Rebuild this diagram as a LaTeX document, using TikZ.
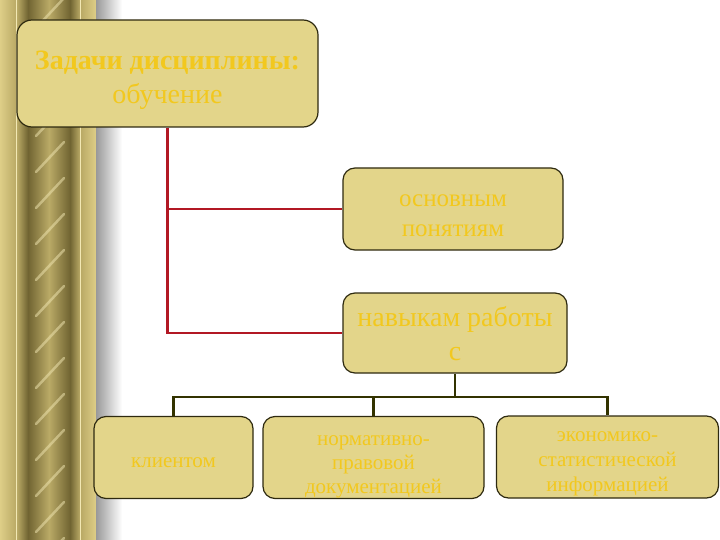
\documentclass[tikz,border=0pt]{standalone}
\usepackage{fontspec}
\setmainfont{Liberation Serif}
\definecolor{boxfill}{RGB}{227,213,138}
\definecolor{boxline}{RGB}{46,42,16}
\definecolor{txt}{RGB}{242,200,30}
\definecolor{redln}{RGB}{178,24,36}
\definecolor{treeln}{RGB}{51,51,0}
\definecolor{pilLight}{RGB}{222,206,135}
\definecolor{pilMid}{RGB}{186,170,102}
\definecolor{pilDark}{RGB}{112,100,50}
\definecolor{pilGlow}{RGB}{242,232,180}

\begin{document}
\begin{tikzpicture}[x=1pt,y=-1pt,
  box/.style={draw=boxline,line width=1.2pt,fill=boxfill,rounded corners=12pt},
  lbl/.style={text=txt,align=center,inner sep=0pt},
  redwire/.style={draw=redln,line width=2.2pt},
  treewire/.style={draw=treeln,line width=2.2pt},
  streak/.style={draw=pilGlow,line width=2.5pt,opacity=.5,line cap=round}]
\useasboundingbox (0,0) rectangle (720,540);

% pillar
\shade[left color=pilLight,right color=pilMid] (0,0) rectangle (16,540);
\shade[left color=pilMid,right color=pilDark] (17,0) rectangle (28,540);
\shade[left color=pilDark,right color=pilDark,middle color=pilMid] (28,0) rectangle (70,540);
\shade[left color=pilDark,right color=pilMid] (70,0) rectangle (80,540);
\shade[left color=pilMid,right color=pilLight] (81,0) rectangle (96,540);
\draw[pilGlow,line width=.8pt] (16.5,0) -- (16.5,540) (80.5,0) -- (80.5,540);
\shade[left color=gray!80,right color=white] (96,0) rectangle (122,540);
\begin{scope}
\clip (30,0) rectangle (68,540);
\foreach \k in {0,...,15}
  \draw[streak] (36,{\k*36+28}) -- ++(28,-30);
\end{scope}

\node[box,rounded corners=15pt,minimum width=301,minimum height=107] (T0) at (167.5,73.5) {};
\node[box,minimum width=220,minimum height=82] (T1) at (453,209) {};
\node[box,minimum width=224,minimum height=80] (T2) at (455,333) {};
\node[box,minimum width=159,minimum height=82] (S1) at (173.5,457.5) {};
\node[box,minimum width=221,minimum height=82] (S2) at (373.5,457.5) {};
\node[box,minimum width=222,minimum height=82] (S3) at (607.5,457) {};

\node[lbl,font=\fontsize{28}{34}\selectfont] (T0t) at ([yshift=-7pt]T0.center) {\textbf{Задачи дисциплины:}\\обучение};
\node[lbl,font=\fontsize{25}{30}\selectfont] (T1t) at ([yshift=-7pt]T1.center) {основным\\понятиям};
\node[lbl,font=\fontsize{28}{34}\selectfont] (T2t) at ([yshift=-1pt]T2.center) {навыкам работы\\с};
\node[lbl,font=\fontsize{21}{24}\selectfont] (S1t) at ([yshift=-5pt]S1.center) {клиентом};
\node[lbl,font=\fontsize{21}{24}\selectfont] (S2t) at ([yshift=-9pt]S2.center) {нормативно-\\правовой\\документацией};
\node[lbl,font=\fontsize{21}{25}\selectfont] (S3t) at ([yshift=-7pt]S3.center) {экономико-\\статистической\\информацией};

\draw[redwire] (T0.south) |- (T1.west);
\draw[redwire] (T0.south) |- (T2.west);

\draw[treewire] (T2.south) -- ++(0,23) coordinate (F);
\draw[treewire] (S1.north) |- (F) -| (S3.north);
\draw[treewire] (S2.north) -- (S2.north |- F);

\end{tikzpicture}
\end{document}
